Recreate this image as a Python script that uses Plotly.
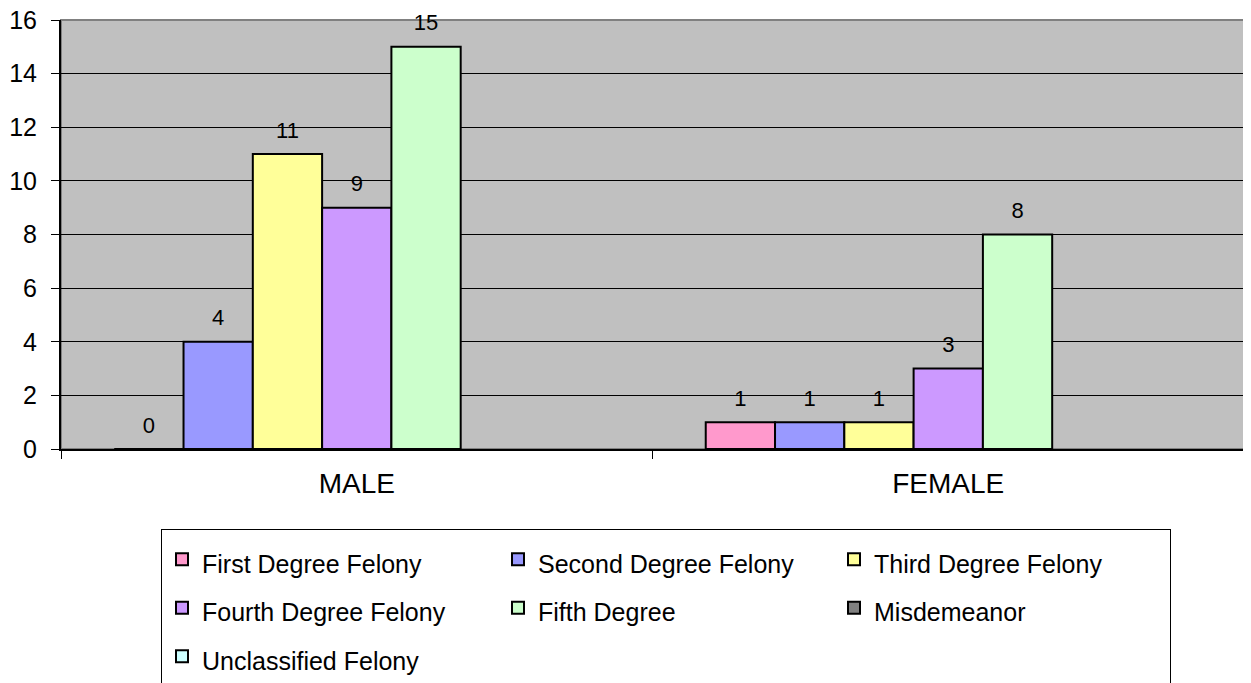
import plotly.graph_objects as go

categories = ["MALE", "FEMALE"]
series_names = [
    "First Degree Felony",
    "Second Degree Felony",
    "Third Degree Felony",
    "Fourth Degree Felony",
    "Fifth Degree",
    "Misdemeanor",
    "Unclassified Felony",
]
first_degree = [0, 1]
second_degree = [4, 1]
third_degree = [11, 1]
fourth_degree = [9, 3]
fifth_degree = [15, 8]
misdemeanor = [None, None]
unclassified = [None, None]
series_values = [first_degree, second_degree, third_degree, fourth_degree,
                 fifth_degree, misdemeanor, unclassified]
colors = ["#FF99CC", "#9999FF", "#FFFF99", "#CC99FF", "#CCFFCC", "#808080", "#CCFFFF"]
y_ticks = [0, 2, 4, 6, 8, 10, 12, 14, 16]

FONT = "Arial, 'Liberation Sans', sans-serif"

fig = go.Figure()
for name, vals, col in zip(series_names, series_values, colors):
    fig.add_trace(go.Bar(
        x=categories, y=vals,
        name="<span style='font-size:25px'>" + name + "</span>",
        marker=dict(color=col, line=dict(color="#000000", width=2)),
        offsetgroup=name,
    ))
# value labels, grouped like the bars
for name, vals in zip(series_names, series_values):
    fig.add_trace(go.Scatter(
        x=categories, y=vals, mode="markers+text",
        text=[("" if v is None else str(v)) for v in vals],
        textposition="top center",
        textfont=dict(family=FONT, size=22, color="#000000"),
        marker=dict(size=16, opacity=0),
        offsetgroup=name, showlegend=False, hoverinfo="skip",
        cliponaxis=False,
    ))

fig.update_layout(
    width=1243, height=675,
    margin=dict(l=53, r=7, t=12, b=234, autoexpand=False),
    paper_bgcolor="#FFFFFF",
    plot_bgcolor="#C0C0C0",
    barmode="group",
    scattermode="group",
    bargap=0.18,
    bargroupgap=0,
    scattergap=0.18,
    font=dict(family=FONT, color="#000000"),
    showlegend=True,
    legend=dict(
        orientation="h",
        x=(153 - 53) / 1183, y=-(521 - 441) / 429, xanchor="left", yanchor="top",
        entrywidth=291, entrywidthmode="pixels",
        bordercolor="#000000", borderwidth=1, bgcolor="#FFFFFF",
        font=dict(family=FONT, size=35, color="#000000"),
        traceorder="normal",
    ),
    shapes=[dict(type="rect", xref="paper", yref="paper", x0=0, x1=1, y0=0, y1=1,
                 line=dict(color="#808080", width=2), layer="below")],
)
fig.update_yaxes(
    range=[0, 16], tickvals=y_ticks, showgrid=True, gridcolor="#000000", gridwidth=1,
    showline=True, linecolor="#000000", linewidth=2,
    ticks="outside", ticklen=8, tickcolor="#000000", tickwidth=1,
    ticklabelstandoff=9, ticklabeloverflow="allow",
    tickfont=dict(family=FONT, size=25, color="#000000"),
    zeroline=False, fixedrange=True,
)
fig.update_xaxes(
    showline=True, linecolor="#000000", linewidth=2,
    ticks="outside", ticklen=8, tickcolor="#000000", tickwidth=1,
    tickson="boundaries", ticklabelstandoff=8,
    tickfont=dict(family=FONT, size=28, color="#000000"),
    showgrid=False, fixedrange=True,
)

fig.write_html("out.html")
